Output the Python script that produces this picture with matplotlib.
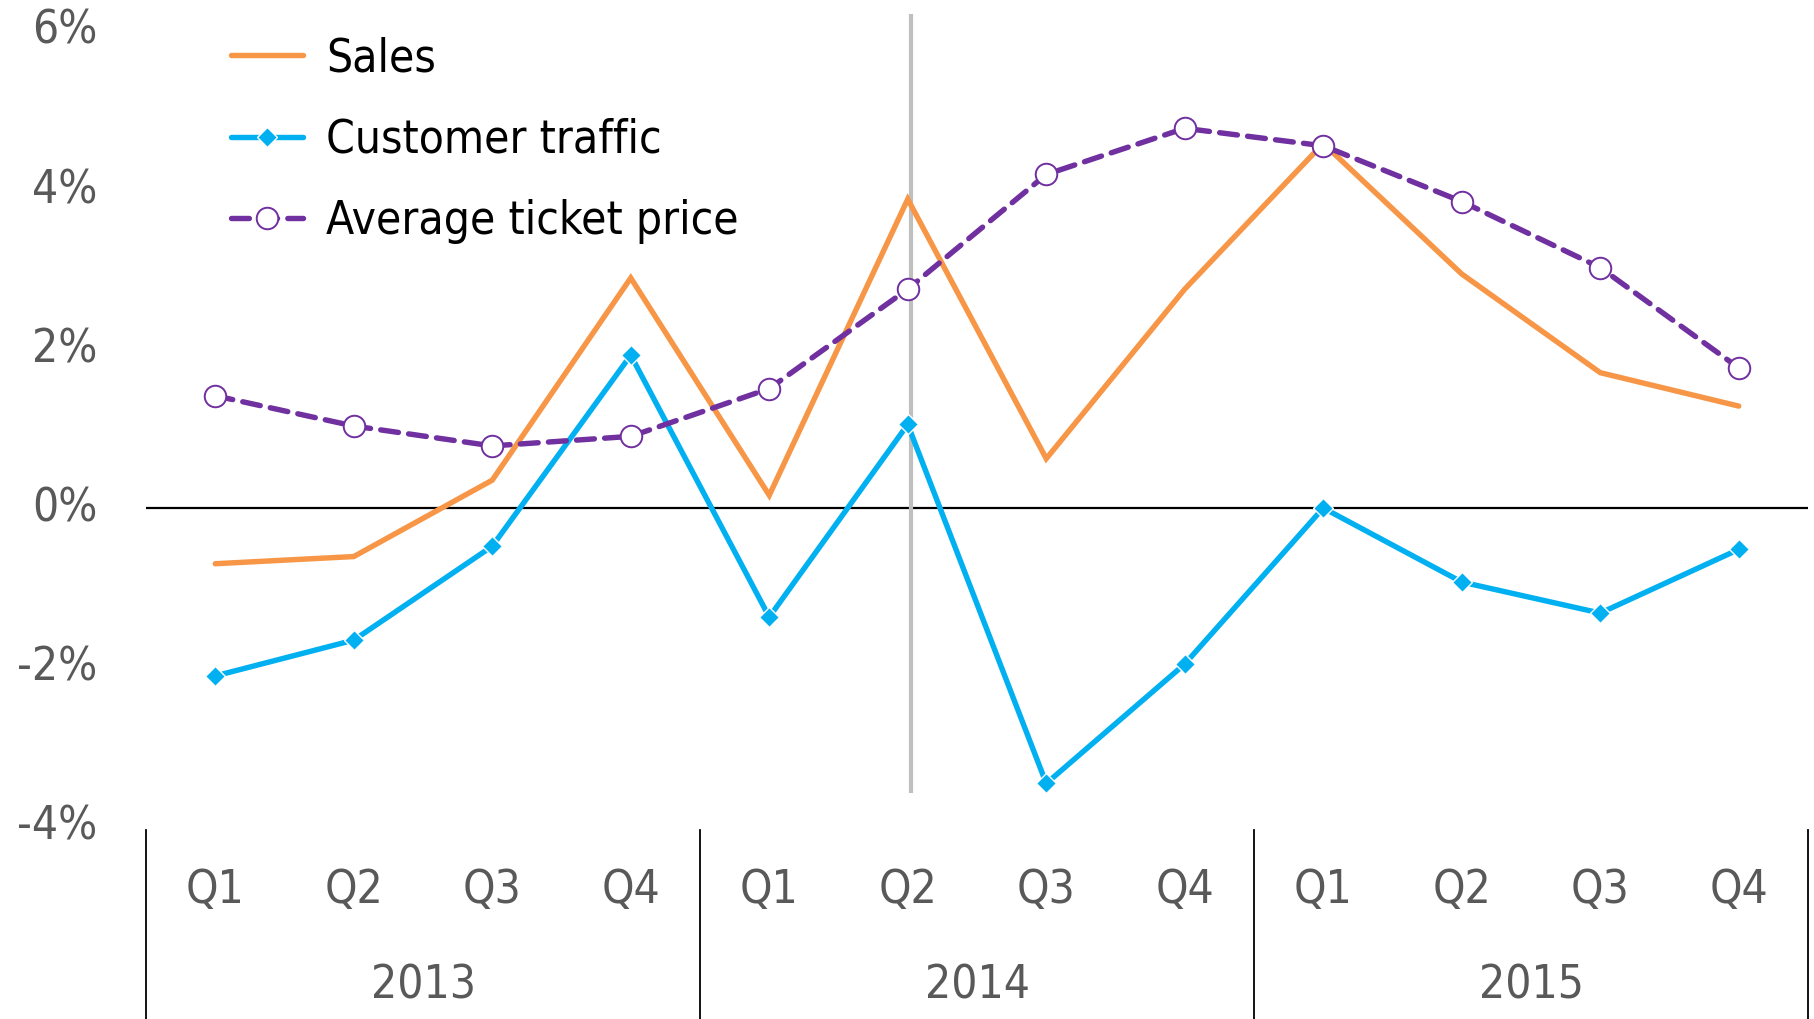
import matplotlib
matplotlib.use("Agg")
import matplotlib.pyplot as plt
import matplotlib.transforms as mtransforms
import numpy as np

quarters = ["Q1", "Q2", "Q3", "Q4"] * 3
years = ["2013", "2014", "2015"]
sales = [-0.70, -0.61, 0.35, 2.89, 0.16, 3.88, 0.62, 2.75, 4.58, 2.94, 1.70, 1.28]
traffic = [-2.11, -1.66, -0.48, 1.92, -1.37, 1.05, -3.46, -1.96, 0.00, -0.93, -1.32, -0.52]
ticket = [1.41, 1.03, 0.78, 0.90, 1.50, 2.75, 4.19, 4.77, 4.55, 3.85, 3.02, 1.76]
yticks = [-4, -2, 0, 2, 4, 6]
ytick_labels = ["-4%", "-2%", "0%", "2%", "4%", "6%"]

FONT = dict(family="DejaVu Sans", stretch="condensed")
FS = 33
LFS = 33
GREY = "#595959"

fig = plt.figure(figsize=(18.14, 10.19), dpi=100)
ax = fig.add_axes([146/1814, 0.189, (1808-146)/1814, 0.9897-0.189])
x = np.arange(len(sales))

ax.set_xlim(-0.5, len(sales) - 0.5)
ax.set_ylim(-4, 6.25)

ax.axhline(0, color="black", lw=1.6, zorder=1)
ax.vlines(5.02, -3.58, 6.2, color="#BFBFBF", lw=3, zorder=1)

ax.plot(x, sales, color="#F79646", lw=3.9, solid_capstyle="round",
        solid_joinstyle="miter", label="Sales", zorder=3)
ax.plot(x, traffic, color="#00B0F0", lw=3.9, marker="D", markersize=10,
        markerfacecolor="#00B0F0", markeredgecolor="white", markeredgewidth=1.0,
        solid_capstyle="round", label="Customer traffic", zorder=4)
ax.plot(x, ticket, color="#7030A0", lw=3.9, dashes=(3.3, 1.9),
        dash_capstyle="round", marker="o", markersize=15.5,
        markerfacecolor="white", markeredgecolor="#7030A0", markeredgewidth=1.4,
        label="Average ticket price", zorder=5)

for s in ax.spines.values():
    s.set_visible(False)

ax.set_yticks(yticks)
ax.set_yticklabels(ytick_labels)
ax.tick_params(axis="y", length=0, pad=35, labelcolor=GREY, labelsize=FS)
shift = mtransforms.ScaledTranslation(0, 4/100, fig.dpi_scale_trans)
for t in ax.get_yticklabels():
    t.set_fontfamily(FONT["family"]); t.set_fontstretch(FONT["stretch"])
    t.set_transform(t.get_transform() + shift)
ax.set_xticks([])

trans = mtransforms.blended_transform_factory(ax.transData, ax.transAxes)
for i, q in enumerate(quarters):
    ax.text(i, -0.078, q, transform=trans, ha="center", va="center",
            fontsize=FS, color=GREY, **FONT)
for j, yr in enumerate(years):
    ax.text(j * 4 + 1.5, -0.196, yr, transform=trans, ha="center", va="center",
            fontsize=FS, color=GREY, **FONT)
for b in np.arange(-0.5, len(sales), 4):
    ax.plot([b, b], [-0.004, -0.24], transform=trans, color="black", lw=1.3,
            clip_on=False)

leg = ax.legend(loc="upper left", bbox_to_anchor=(231/1814, 1 - 36/1019),
                bbox_transform=fig.transFigure, frameon=False,
                prop=dict(size=LFS, **FONT), handlelength=1.58,
                handletextpad=0.5, labelspacing=0.8, borderpad=0,
                borderaxespad=0)
for t in leg.get_texts():
    t.set_color("black")

fig.savefig("out.png", dpi=100)
